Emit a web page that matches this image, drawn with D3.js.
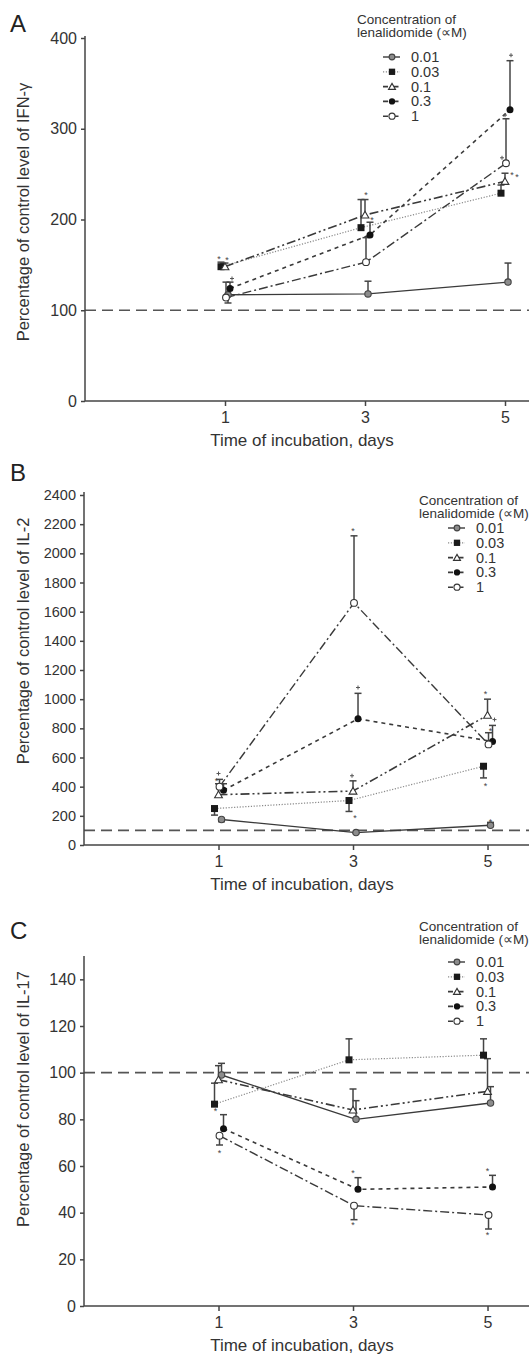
<!DOCTYPE html>
<html><head><meta charset="utf-8">
<script src="https://cdn.jsdelivr.net/npm/d3@7"></script>
<style>body{margin:0;background:#fff}svg{display:block}</style>
</head><body>
<svg id="c" width="529" height="1357"></svg>
<script>
// ---------- data ----------
const days = [1, 3, 5];
const concentrations = ["0.01", "0.03", "0.1", "0.3", "1"];
const legendTitle = ["Concentration of", "lenalidomide (\u221DM)"];
const xTitle = "Time of incubation, days";

// Panel A: IFN-gamma
const ifnTicks = [0, 100, 200, 300, 400];
const ifnValues = [
  [117, 118, 131],
  [148, 191, 229],
  [148, 205, 242],
  [124, 183, 321],
  [114, 153, 262]
];
const ifnErrEnd = [
  [108, 132, 152],
  [153, 222, 238],
  [152, 222, 251],
  [131, 197, 375],
  [131, 180, 311]
];
const ifnMarks = [[1, 158, "*", -6], [1, 156, "*", 2], [1, 135, "+", 7], [3, 228, "*", 1], [3, 201, "*", 7], [5, 381, "+", 6], [5, 315, "+", 0], [5, 268, "+", -3], [5, 250, "*", 7], [5, 248, "*", 12]];

// Panel B: IL-2
const il2Ticks = d3.range(0, 2401, 200);
const il2Values = [
  [175, 85, 135],
  [250, 305, 540],
  [345, 370, 890],
  [375, 865, 710],
  [400, 1660, 690]
];
const il2ErrEnd = [
  [160, 80, 155],
  [205, 230, 460],
  [420, 440, 1000],
  [420, 1040, 820],
  [450, 2120, 770]
];
const il2Marks = [[1, 490, "+", 0], [1, 445, "*", -2], [3, 2160, "*", 0], [3, 1080, "+", 5], [3, 475, "+", -1], [3, 190, "*", 2], [5, 1040, "*", -2], [5, 860, "+", 7], [5, 790, "*", 3], [5, 410, "*", -2], [5, 165, "*", 3]];

// Panel C: IL-17
const il17Ticks = [0, 20, 40, 60, 80, 100, 120, 140];
const il17Values = [
  [99, 80, 87],
  [86.5, 105.5, 107.5],
  [97, 84, 92],
  [76, 50, 51],
  [73, 43, 39]
];
const il17ErrEnd = [
  [104, 88, 94],
  [95.5, 114.5, 114.5],
  [103, 93, 106],
  [82, 55, 56],
  [69, 37, 33]
];
const il17Marks = [[1, 84, "*", -3], [1, 66, "*", 1], [3, 57.5, "*", 0], [3, 35, "*", 0], [5, 58.5, "*", 0], [5, 31, "*", 0]];

// ---------- styles ----------
const seriesDash = ["none", "1.2,1.6", "9,3,2,3,2,3", "4,4", "9,3,2,3"];
const seriesStroke = ["#3a3a3a", "#8a8a8a", "#3a3a3a", "#3a3a3a", "#3a3a3a"];
const seriesWidth = [1.4, 1.2, 1.6, 1.6, 1.4];
const seriesOffset = [3, -4, 0, 5, 1];
const ink = "#333";
const font = "'Liberation Sans', Arial, sans-serif";

const svg = d3.select("#c");

function marker(g, i, x, y, s) {
  s = s || 1;
  if (i === 0) g.append("circle").attr("cx", x).attr("cy", y).attr("r", 3.2 * s).attr("fill", "#8c8c8c").attr("stroke", "#444").attr("stroke-width", 1.1);
  else if (i === 1) g.append("rect").attr("x", x - 3.5 * s).attr("y", y - 3.5 * s).attr("width", 7 * s).attr("height", 7 * s).attr("fill", "#1a1a1a");
  else if (i === 2) g.append("path").attr("d", d3.symbol(d3.symbolTriangle, 26 * s * s)()).attr("transform", `translate(${x},${y + 0.8})`).attr("fill", "#fff").attr("stroke", "#333").attr("stroke-width", 1.1);
  else if (i === 3) g.append("circle").attr("cx", x).attr("cy", y).attr("r", 3.5 * s).attr("fill", "#111");
  else g.append("circle").attr("cx", x).attr("cy", y).attr("r", 3.4 * s).attr("fill", "#fff").attr("stroke", "#333").attr("stroke-width", 1.1);
}

function panel(cfg) {
  const g = svg.append("g");
  const x = d3.scaleLinear().domain(cfg.xDomain).range(cfg.xRange);
  const y = d3.scaleLinear().domain(cfg.yDomain).range(cfg.yRange);

  g.append("text").attr("x", 10).attr("y", cfg.letterY).attr("font-family", font).attr("font-size", 24).attr("fill", "#222").text(cfg.letter);

  g.append("line").attr("x1", x.range()[0]).attr("x2", 529).attr("y1", y(100)).attr("y2", y(100))
    .attr("stroke", "#555").attr("stroke-width", 1.6).attr("stroke-dasharray", "11,6");

  const yAxis = d3.axisLeft(y).tickValues(cfg.ticks).tickFormat(d3.format("d")).tickSize(4).tickPadding(4).tickSizeOuter(0);
  const ya = g.append("g").attr("transform", `translate(${x.range()[0]},0)`).call(yAxis);
  ya.select(".domain").attr("d", `M0,${cfg.yTop}V${y(0)}`);
  const xAxis = d3.axisBottom(x).tickValues(days).tickFormat(d3.format("d")).tickSize(5).tickPadding(6).tickSizeOuter(0);
  const xa = g.append("g").attr("transform", `translate(0,${y(0)})`).call(xAxis);
  xa.select(".domain").attr("d", `M${x.range()[0]},0H529`);
  [ya, xa].forEach(a => {
    a.selectAll("path,line").attr("stroke", "#444").attr("stroke-width", 1.5);
    a.selectAll("text").attr("font-family", font).attr("fill", ink);
  });
  ya.selectAll("text").attr("font-size", cfg.tickFont);
  xa.selectAll("text").attr("font-size", 16);

  g.append("text").attr("x", 302).attr("y", y(0) + 45).attr("text-anchor", "middle")
    .attr("font-family", font).attr("font-size", 17).attr("fill", ink).text(xTitle);
  g.append("text").attr("transform", `translate(29,${cfg.yTitleY}) rotate(-90)`).attr("text-anchor", "middle")
    .attr("font-family", font).attr("font-size", 16.5).attr("fill", ink).text(cfg.yTitle);

  cfg.values.forEach((vals, i) => {
    const pts = vals.map((v, j) => [x(days[j]) + seriesOffset[i], y(v)]);
    g.append("path").attr("d", d3.line()(pts)).attr("fill", "none")
      .attr("stroke", seriesStroke[i]).attr("stroke-width", seriesWidth[i]).attr("stroke-dasharray", seriesDash[i]);
  });
  cfg.values.forEach((vals, i) => {
    vals.forEach((v, j) => {
      const e = cfg.err[i][j];
      const px = x(days[j]) + seriesOffset[i];
      g.append("line").attr("x1", px).attr("x2", px).attr("y1", y(v)).attr("y2", y(e)).attr("stroke", "#444").attr("stroke-width", 1.5);
      g.append("line").attr("x1", px - 3.5).attr("x2", px + 3.5).attr("y1", y(e)).attr("y2", y(e)).attr("stroke", "#444").attr("stroke-width", 1.5);
    });
  });
  cfg.values.forEach((vals, i) => {
    vals.forEach((v, j) => marker(g, i, x(days[j]) + seriesOffset[i], y(v)));
  });
  cfg.marks.forEach(m => {
    const mx = x(m[0]) + m[3], my = y(m[1]);
    if (m[2] === "+") {
      g.append("path").attr("d", `M${mx - 2},${my}H${mx + 2}M${mx},${my - 2}V${my + 2}`).attr("stroke", "#555").attr("stroke-width", 1);
    } else {
      g.append("text").attr("x", mx).attr("y", my + 4).attr("text-anchor", "middle")
        .attr("font-family", font).attr("font-size", 9).attr("fill", "#444").text(m[2]);
    }
  });

  const L = cfg.legend;
  legendTitle.forEach((t, k) => g.append("text").attr("x", L.tx).attr("y", L.ty + k * 13)
    .attr("font-family", font).attr("font-size", 13.5).attr("fill", ink).text(t));
  concentrations.forEach((c, i) => {
    const yy = L.ey + i * 14.8;
    g.append("line").attr("x1", L.mx - 9).attr("x2", L.mx + 8).attr("y1", yy).attr("y2", yy)
      .attr("stroke", seriesStroke[i]).attr("stroke-width", seriesWidth[i]).attr("stroke-dasharray", i === 0 ? "none" : (i === 1 ? "1.2,1.6" : "5,2,1.5,2"));
    marker(g, i, L.mx, yy, 0.9);
    g.append("text").attr("x", L.mx + 19).attr("y", yy + 5).attr("font-family", font).attr("font-size", 14.5).attr("fill", ink).text(c);
  });
}

panel({
  letter: "A", letterY: 32, xDomain: [-1, 5.4], xRange: [85, 533], yDomain: [0, 400], yRange: [401, 38], yTop: 36,
  ticks: ifnTicks, tickFont: 16, values: ifnValues, err: ifnErrEnd, marks: ifnMarks,
  yTitle: "Percentage of control level of IFN-\u03B3", yTitleY: 212,
  legend: { tx: 357, ty: 24, mx: 392, ey: 57 }
});
panel({
  letter: "B", letterY: 481, xDomain: [-1, 5.7], xRange: [84, 534.6], yDomain: [0, 2400], yRange: [845, 495], yTop: 492,
  ticks: il2Ticks, tickFont: 14.5, values: il2Values, err: il2ErrEnd, marks: il2Marks,
  yTitle: "Percentage of control level of IL-2", yTitleY: 641,
  legend: { tx: 419, ty: 505, mx: 457, ey: 528 }
});
panel({
  letter: "C", letterY: 939, xDomain: [-1, 5.7], xRange: [84, 534.6], yDomain: [0, 150], yRange: [1306, 956], yTop: 956,
  ticks: il17Ticks, tickFont: 16, values: il17Values, err: il17ErrEnd, marks: il17Marks,
  yTitle: "Percentage of control level of IL-17", yTitleY: 1099,
  legend: { tx: 419, ty: 931, mx: 457, ey: 962 }
});
</script>
</body></html>
